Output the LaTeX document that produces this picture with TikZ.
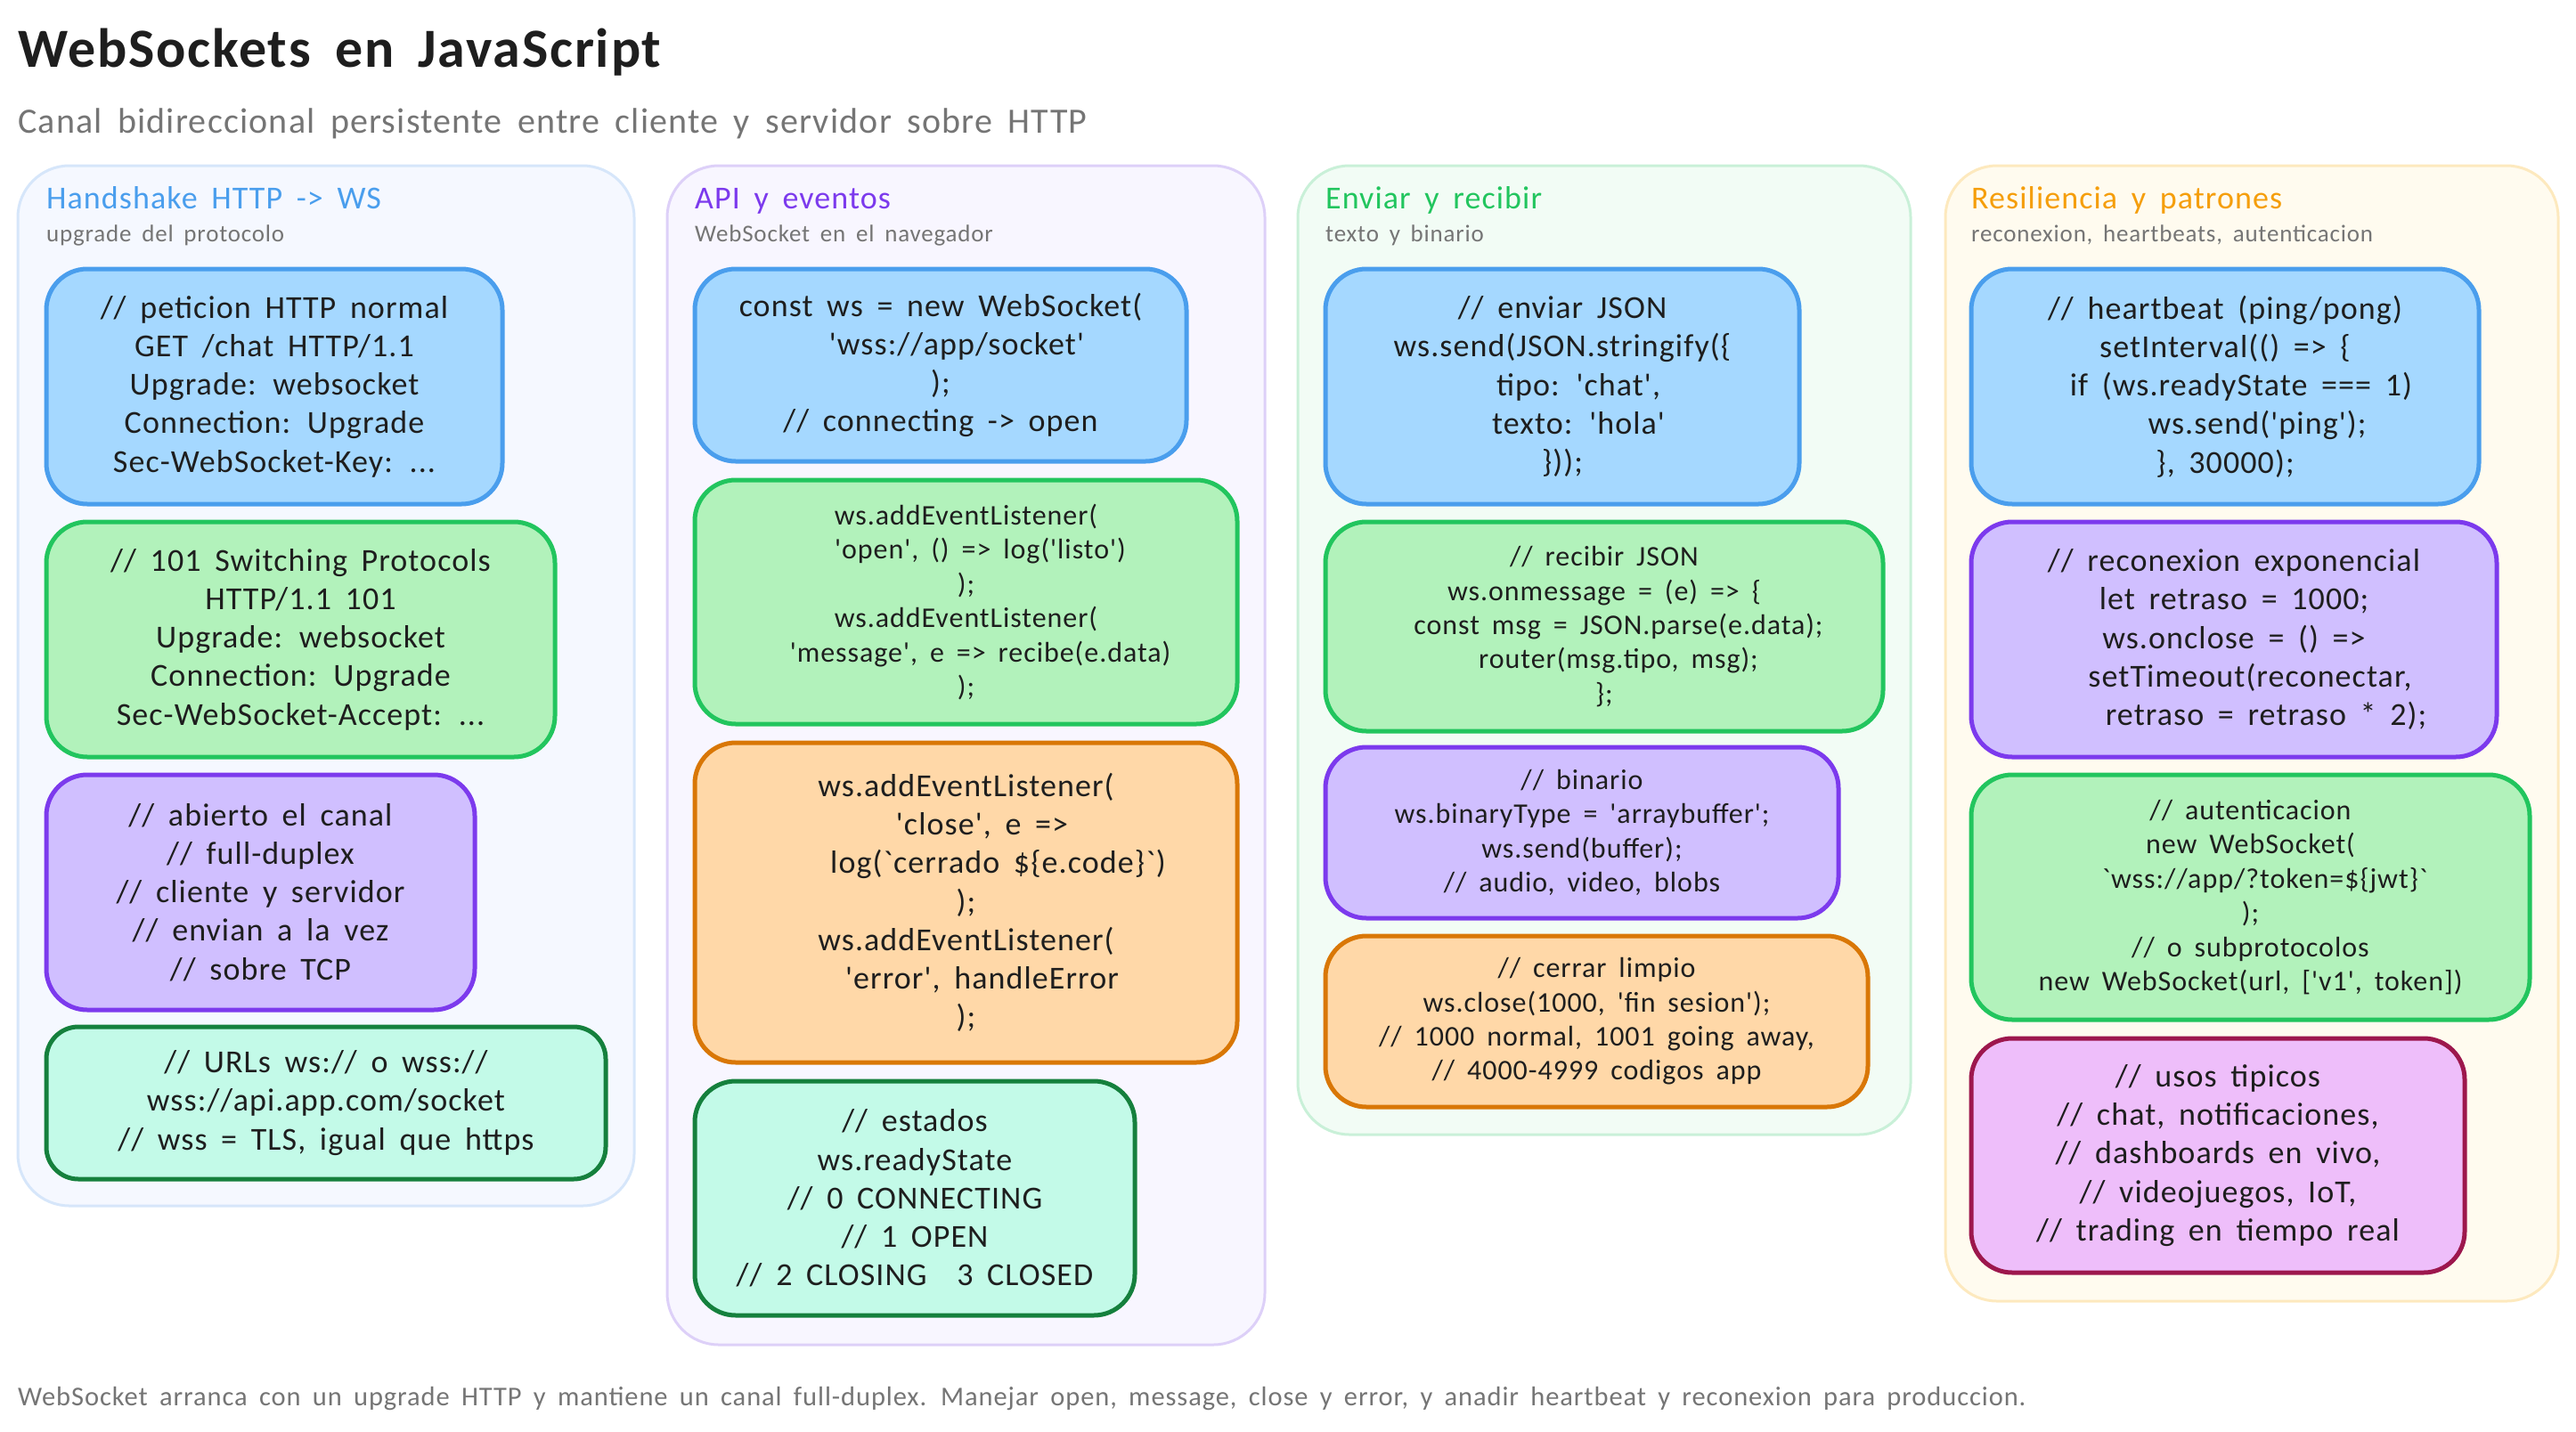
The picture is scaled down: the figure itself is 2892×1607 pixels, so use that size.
\documentclass[tikz,border=0pt]{standalone}
\usepackage{fontspec}
\newfontfamily\handfont[LetterSpace=3, WordSpace=1.7]{Carlito}
\definecolor{inkblack}{HTML}{1E1E1E}
\definecolor{inkgrey}{HTML}{757575}
\definecolor{blueline}{HTML}{4A9EED}
\definecolor{bluefill}{HTML}{A5D8FF}
\definecolor{greenline}{HTML}{22C55E}
\definecolor{greenfill}{HTML}{B2F2BB}
\definecolor{purpleline}{HTML}{7C3AED}
\definecolor{purplefill}{HTML}{D0BFFF}
\definecolor{orangeline}{HTML}{D97706}
\definecolor{orangefill}{HTML}{FFD8A8}
\definecolor{tealline}{HTML}{15803D}
\definecolor{tealfill}{HTML}{C3FAE8}
\definecolor{pinkline}{HTML}{9D174D}
\definecolor{pinkfill}{HTML}{EEBEFA}
\definecolor{amberline}{HTML}{F59E0B}
\definecolor{p1line}{HTML}{D6E6FA}
\definecolor{p1fill}{HTML}{F5F8FF}
\definecolor{p2line}{HTML}{DDD0F8}
\definecolor{p2fill}{HTML}{F8F6FF}
\definecolor{p3line}{HTML}{C9F0D8}
\definecolor{p3fill}{HTML}{F2FCF5}
\definecolor{p4line}{HTML}{FDE9BE}
\definecolor{p4fill}{HTML}{FFFBEF}
\newcommand{\lead}{\hspace*{1em}}
\tikzset{panel/.style = {draw, line width=3pt, rounded corners=58pt, anchor=north west, outer sep=0pt, inner sep=0pt}}
\tikzset{panel-h/.style = {anchor=base west, inner sep=0pt, font=\handfont\fontsize{36}{43}\selectfont}}
\tikzset{panel-s/.style = {anchor=base west, inner sep=0pt, text=inkgrey, font=\handfont\fontsize{27}{32}\selectfont}}
\tikzset{code/.style = {draw, line width=5pt, rounded corners=46pt, anchor=north west, align=center, outer sep=0pt, inner sep=0pt, text=inkblack, font=\handfont\fontsize{36}{43.2}\selectfont}}
\tikzset{code-s/.style = {code, font=\handfont\fontsize{32}{38.4}\selectfont}}
\tikzset{c-blue/.style = {draw=blueline, fill=bluefill}}
\tikzset{c-green/.style = {draw=greenline, fill=greenfill}}
\tikzset{c-purple/.style = {draw=purpleline, fill=purplefill}}
\tikzset{c-orange/.style = {draw=orangeline, fill=orangefill}}
\tikzset{c-teal/.style = {draw=tealline, fill=tealfill}}
\tikzset{c-pink/.style = {draw=pinkline, fill=pinkfill}}
\begin{document}
\begin{tikzpicture}[x=1pt, y=-1pt]
  \useasboundingbox (0,0) rectangle (2892,1607);
  \node[anchor=base west, inner sep=0pt, text=inkblack, font=\handfont\bfseries\fontsize{62}{74}\selectfont] (title) at (20,75) {WebSockets en JavaScript};
  \node[anchor=base west, inner sep=0pt, text=inkgrey, font=\handfont\fontsize{40}{48}\selectfont] (subtitle) at (20,149) {Canal bidireccional persistente entre cliente y servidor sobre HTTP};

  % panels
  \node[panel, draw=p1line, fill=p1fill, minimum width=692, minimum height=1168] (p1) at (20,186) {};
  \node[panel, draw=p2line, fill=p2fill, minimum width=671, minimum height=1324] (p2) at (749,186) {};
  \node[panel, draw=p3line, fill=p3fill, minimum width=688, minimum height=1088] (p3) at (1457,186) {};
  \node[panel, draw=p4line, fill=p4fill, minimum width=688, minimum height=1275] (p4) at (2184,186) {};

  \node[panel-h, text=blueline] (p1h) at (52,234) {Handshake HTTP -> WS};
  \node[panel-s] (p1s) at (52,271) {upgrade del protocolo};
  \node[panel-h, text=purpleline] (p2h) at (780,234) {API y eventos};
  \node[panel-s] (p2s) at (780,271) {WebSocket en el navegador};
  \node[panel-h, text=greenline] (p3h) at (1488,234) {Enviar y recibir};
  \node[panel-s] (p3s) at (1488,271) {texto y binario};
  \node[panel-h, text=amberline] (p4h) at (2213,234) {Resiliencia y patrones};
  \node[panel-s] (p4s) at (2213,271) {reconexion, heartbeats, autenticacion};

  % column 1
  \node[code, c-blue, minimum width=512, minimum height=264] (a1) at (52,302)
    {// peticion HTTP normal\\GET /chat HTTP/1.1\\Upgrade: websocket\\Connection: Upgrade\\Sec-WebSocket-Key: ...};
  \node[code, c-green, minimum width=571, minimum height=264] (a2) at (52,586)
    {// 101 Switching Protocols\\HTTP/1.1 101\\Upgrade: websocket\\Connection: Upgrade\\Sec-WebSocket-Accept: ...};
  \node[code, c-purple, minimum width=481, minimum height=264] (a3) at (52,870)
    {// abierto el canal\\// full-duplex\\// cliente y servidor\\// envian a la vez\\// sobre TCP};
  \node[code, c-teal, rounded corners=36pt, minimum width=628, minimum height=171] (a4) at (52,1153)
    {// URLs ws:// o wss://\\wss://api.app.com/socket\\// wss = TLS, igual que https};

  % column 2
  \node[code, c-blue, minimum width=552, minimum height=216] (b1) at (780,302)
    {const ws = new WebSocket(\\\lead 'wss://app/socket'\\);\\// connecting -> open};
  \node[code-s, c-green, minimum width=609, minimum height=274] (b2) at (780,539)
    {ws.addEventListener(\\\lead 'open', () => log('listo')\\);\\ws.addEventListener(\\\lead 'message', e => recibe(e.data)\\);};
  \node[code, c-orange, minimum width=609, minimum height=359] (b3) at (780,834)
    {ws.addEventListener(\\\lead 'close', e =>\\\lead\lead log(`cerrado \$\{e.code\}`)\\);\\ws.addEventListener(\\\lead 'error', handleError\\);};
  \node[code, c-teal, minimum width=494, minimum height=263] (b4) at (780,1214)
    {// estados\\ws.readyState\\// 0 CONNECTING\\// 1 OPEN\\// 2 CLOSING\hspace{0.5em} 3 CLOSED};

  % column 3
  \node[code, c-blue, minimum width=532, minimum height=264] (c1) at (1488,302)
    {// enviar JSON\\ws.send(JSON.stringify(\{\\\lead tipo: 'chat',\\\lead texto: 'hola'\\\}));};
  \node[code-s, c-green, minimum width=626, minimum height=235] (c2) at (1488,586)
    {// recibir JSON\\ws.onmessage = (e) => \{\\\lead const msg = JSON.parse(e.data);\\\lead router(msg.tipo, msg);\\\};};
  \node[code-s, c-purple, minimum width=576, minimum height=192] (c3) at (1488,839)
    {// binario\\ws.binaryType = 'arraybuffer';\\ws.send(buffer);\\// audio, video, blobs};
  \node[code-s, c-orange, minimum width=609, minimum height=192] (c4) at (1488,1051)
    {// cerrar limpio\\ws.close(1000, 'fin sesion');\\// 1000 normal, 1001 going away,\\// 4000-4999 codigos app};

  % column 4
  \node[code, c-blue, minimum width=570, minimum height=264] (d1) at (2213,302)
    {// heartbeat (ping/pong)\\setInterval(() => \{\\\lead if (ws.readyState === 1)\\\lead\lead ws.send('ping');\\\}, 30000);};
  \node[code, c-purple, minimum width=590, minimum height=264] (d2) at (2213,586)
    {// reconexion exponencial\\let retraso = 1000;\\ws.onclose = () =>\\\lead setTimeout(reconectar,\\\lead\lead retraso = retraso * 2);};
  \node[code-s, c-green, minimum width=627, minimum height=275] (d3) at (2213,870)
    {// autenticacion\\new WebSocket(\\\lead `wss://app/?token=\$\{jwt\}`\\);\\// o subprotocolos\\new WebSocket(url, ['v1', token])};
  \node[code, c-pink, minimum width=554, minimum height=263] (d4) at (2213,1166)
    {// usos tipicos\\// chat, notificaciones,\\// dashboards en vivo,\\// videojuegos, IoT,\\// trading en tiempo real};

  \node[anchor=base west, inner sep=0pt, text=inkgrey, font=\handfont\fontsize{30.5}{36}\selectfont] (footer) at (20,1578)
    {WebSocket arranca con un upgrade HTTP y mantiene un canal full-duplex. Manejar open, message, close y error, y anadir heartbeat y reconexion para produccion.};
\end{tikzpicture}
\end{document}
